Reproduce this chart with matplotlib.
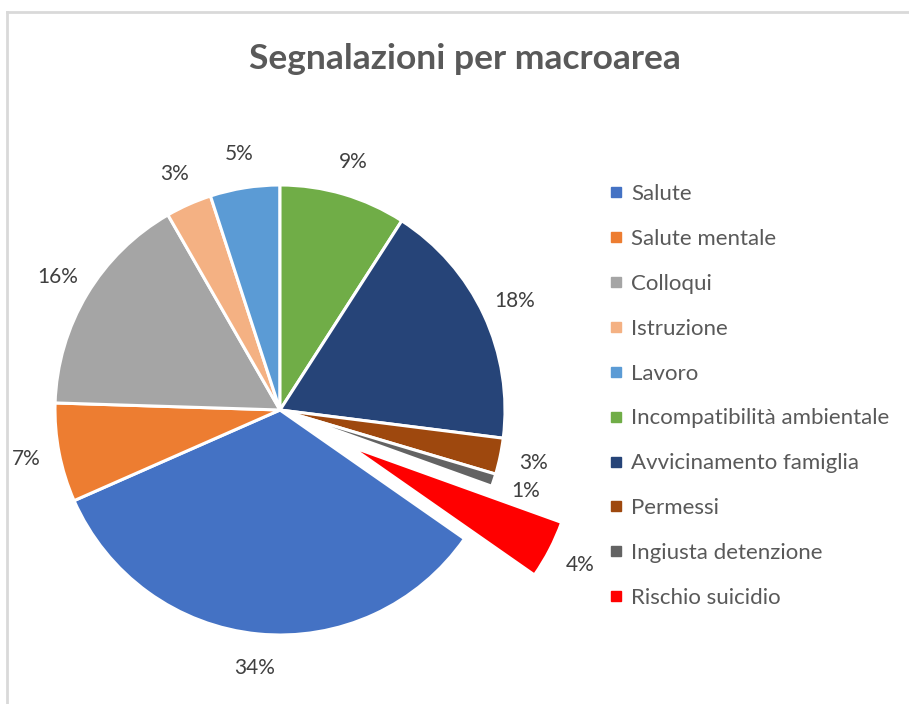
import matplotlib
matplotlib.use("Agg")
import matplotlib.pyplot as plt
from matplotlib.lines import Line2D

# data (percent shares)
categories = ["Salute", "Salute mentale", "Colloqui", "Istruzione", "Lavoro",
              "Incompatibilità ambientale", "Avvicinamento famiglia", "Permessi",
              "Ingiusta detenzione", "Rischio suicidio"]
values = [33.7, 7.1, 16.2, 3.3, 5.0, 9.1, 17.9, 2.6, 0.9, 4.2]
colors = ["#4472C4", "#ED7D31", "#A5A5A5", "#F4B183", "#5B9BD5",
          "#70AD47", "#264478", "#9E480E", "#636363", "#FF0000"]
explode = [0, 0, 0, 0, 0, 0, 0, 0, 0, 0.35]

plt.rcParams['font.family'] = ['Lato', 'DejaVu Sans']

fig = plt.figure(figsize=(9.09, 7.04), dpi=100)

# chart frame (left and top border visible)
fig.add_artist(Line2D([7/909, 7/909], [0, 1 - 12/704], color="#D9D9D9", lw=2))
fig.add_artist(Line2D([7/909, 1], [1 - 12/704, 1 - 12/704], color="#D9D9D9", lw=2))

# pie axes: 450x450 px centred at (280, 410)
ax = fig.add_axes([55/909, (704 - 635)/704, 450/909, 450/704])

# Excel style: first slice rotated so Incompatibilità starts at 12 o'clock
start = 90 + 3.6 * sum(values[:5])
wedges, texts, autotexts = ax.pie(
    values, colors=colors, explode=explode, startangle=start, counterclock=False,
    autopct=lambda p: f"{p:.0f}%", pctdistance=1.15,
    wedgeprops=dict(edgecolor="white", linewidth=2.2, clip_on=False),
    textprops=dict(color="#404040", fontsize=15),
)
for t in autotexts:
    t.set_clip_on(False)
ax.set_xlim(-1, 1)
ax.set_ylim(-1, 1)
ax.set_aspect("equal")
ax.axis("off")

fig.text(465/909, 1 - 59/704, "Segnalazioni per macroarea", ha="center", va="center",
         fontsize=25.5, fontweight="bold", color="#595959")

handles = [Line2D([], [], marker="s", linestyle="none", markersize=7,
                  markerfacecolor=c, markeredgecolor=c) for c in colors]
leg = fig.legend(handles, categories, loc="upper left", bbox_to_anchor=(608/909, 1 - 184/704),
                 frameon=False, fontsize=16, handlelength=0.7, handletextpad=0.35,
                 labelspacing=1.12, borderaxespad=0, borderpad=0)
for t in leg.get_texts():
    t.set_color("#595959")

fig.savefig("out.png", dpi=100)
